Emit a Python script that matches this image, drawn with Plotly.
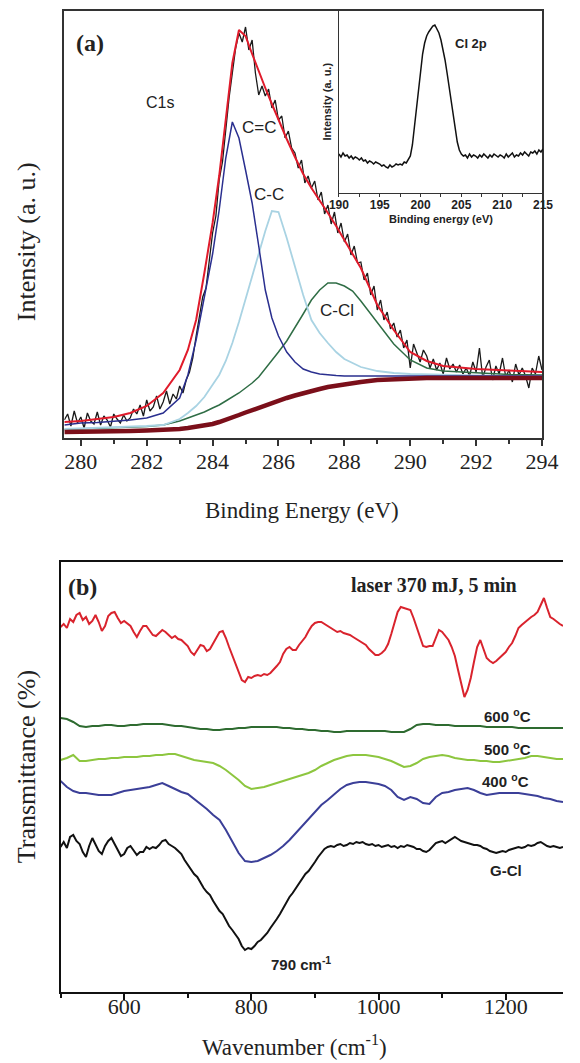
import numpy as np
import plotly.graph_objects as go

W, H = 580, 1063
SERIF = "Liberation Serif"
SANS = "Liberation Sans"

# ---------------- (a) C1s XPS spectrum and its fit ----------------
c1s_energy = np.linspace(279.5, 294.0, 146)
c1s_counts = [
    18, 24, 12, 27, 15, 21, 10, 25, 17, 14,
    26, 13, 22, 18, 11, 24, 19, 15, 23, 17,
    20, 29, 24, 33, 22, 38, 27, 31, 42, 29,
    36, 47, 34, 44, 39, 52, 45, 58, 66, 80,
    102, 124, 141, 150, 176, 205, 222, 258, 276, 312,
    340, 365, 390, 405, 396, 411, 388, 398, 365, 343,
    352, 342, 349, 330, 338, 318, 322, 300, 307, 290,
    285, 270, 278, 255, 262, 250, 257, 238, 246, 224,
    233, 214, 226, 205, 215, 196, 204, 183, 192, 175,
    176, 158, 165, 143, 152, 128, 138, 118, 126, 109,
    115, 101, 108, 90, 98, 70, 94, 85, 76, 88,
    82, 70, 79, 68, 75, 64, 80, 69, 74, 66,
    73, 64, 70, 62, 76, 66, 90, 60, 71, 78,
    58, 72, 64, 80, 61, 68, 56, 74, 63, 70,
    62, 50, 70, 64, 82, 68,
]

fit_energy = [279.5, 280, 280.5, 281, 281.5, 282, 282.5, 283,
              283.25, 283.5, 283.75,
              284, 284.2, 284.4, 284.6, 284.8,
              285, 285.2, 285.4, 285.6, 285.8,
              286, 286.25, 286.5, 286.75,
              287, 287.25, 287.5, 287.75,
              288, 288.25, 288.5,
              289, 289.5, 290, 290.5, 291,
              292, 293, 294]
fit_background = [6, 6, 6.5, 7, 7, 7.5, 8, 9,
                  10, 11, 12.5,
                  14, 16, 18, 20.5, 23,
                  25.5, 28, 30.5, 33, 35,
                  37, 40, 42.5, 45,
                  47, 49, 51, 52.5,
                  54, 55, 56,
                  58, 59, 60, 60, 60,
                  60, 60, 60]
fit_c_eq_c = [13, 15, 15.5, 16.5, 18, 20, 25, 40,
              63, 98, 140,
              184, 228, 280, 316, 300,
              268, 235, 192, 148, 120,
              102, 86, 76, 69,
              66, 64, 63, 62.5,
              62, 62, 62,
              62, 62, 62, 62, 62,
              62, 62, 62]
fit_c_c = [9, 9.5, 10, 10.5, 11, 12, 13, 19,
           25, 32, 41,
           53, 63, 77, 95, 116,
           139, 162, 186, 207, 227,
           226, 200, 171, 143,
           118, 105, 95, 86,
           79, 75, 71,
           67, 65, 64, 63.5, 63,
           62.5, 62, 62]
fit_c_cl = [8.5, 9, 9.5, 10, 10.5, 11.5, 13, 17,
            20, 23, 26,
            30, 33, 37, 41, 45,
            50, 55, 61, 69, 77,
            86, 97, 110, 124,
            138, 148, 155, 155,
            152, 147, 137,
            116, 94, 78, 70, 67,
            65, 63.5, 63]
fit_envelope = [16, 17, 19, 21, 25, 32, 45, 68,
                88, 118, 165,
                215, 262, 318, 375, 408,
                402, 384, 366, 350, 334,
                318, 299, 281, 264,
                250, 238, 225, 212,
                198, 185, 170,
                133, 108, 86, 77, 72,
                69, 67.5, 66]

# ---------------- (a) inset: Cl 2p ----------------
cl2p_energy = np.linspace(190, 215, 101)
cl2p_counts = [
    39, 36, 40, 37, 38, 35, 37, 34, 36, 35,
    33, 35, 32, 33, 30, 32, 31, 29, 31, 30,
    29, 27, 28, 26, 25, 28, 26, 27, 29, 28,
    29, 28, 31, 30, 33, 37, 48, 66, 88, 108,
    125, 139, 150, 157, 161, 164, 167, 168, 164, 160,
    153, 144, 133, 120, 106, 91, 76, 62, 51, 43,
    39, 37, 38, 35, 39, 36, 38, 37, 35, 38,
    36, 39, 37, 35, 38, 36, 39, 37, 36, 38,
    37, 35, 39, 36, 38, 40, 36, 38, 37, 40,
    38, 41, 39, 37, 41, 40, 42, 39, 43, 41,
    44,
]

# ---------------- (b) FTIR spectra ----------------
wn_fine = np.arange(500, 1291, 5)
wn_coarse = np.arange(500, 1291, 10)

ir_laser = [
    365, 368, 364, 373, 370, 377, 379, 372, 375, 368,
    371, 377, 370, 361, 366, 376, 379, 380, 374, 369,
    371, 368, 366, 360, 355, 361, 366, 366, 361, 357,
    356, 359, 362, 360, 357, 354, 356, 353, 352, 349,
    346, 340, 337, 342, 347, 346, 341, 343, 349, 355,
    360, 361, 354, 345, 337, 330, 322, 312, 310, 315,
    314, 316, 317, 316, 318, 317, 319, 322, 326, 330,
    338, 343, 345, 342, 342, 347, 351, 355, 361, 366,
    369, 370, 370, 368, 366, 364, 362, 360, 361, 359,
    358, 357, 355, 353, 351, 349, 347, 343, 340, 337,
    337, 339, 342, 348, 358, 368, 380, 385, 384, 383,
    382, 374, 365, 354, 346, 345, 346, 346, 355, 362,
    360, 356, 352, 345, 336, 322, 308, 295, 302, 314,
    330, 345, 352, 342, 334, 331, 329, 331, 334, 336,
    340, 345, 349, 356, 364, 367, 370, 372, 375, 377,
    380, 387, 394, 384, 375, 373, 370, 368, 366,
]
ir_gcl = [
    145, 150, 144, 155, 157, 151, 148, 140, 135, 146,
    154, 148, 141, 138, 146, 151, 154, 148, 142, 136,
    138, 144, 146, 142, 137, 140, 140, 145, 143, 145,
    144, 147, 151, 152, 148, 146, 144, 141, 138, 132,
    127, 122, 118, 115, 109, 104, 100, 97, 91, 86,
    81, 78, 72, 66, 62, 58, 53, 46, 42, 44,
    43, 46, 50, 52, 55, 59, 64, 68, 73, 78,
    84, 89, 95, 99, 104, 108, 113, 118, 121, 125,
    130, 135, 139, 143, 145, 146, 145, 147, 148, 146,
    147, 149, 148, 150, 149, 150, 148, 147, 148, 146,
    147, 145, 146, 147, 145, 146, 144, 146, 145, 147,
    146, 145, 143, 143, 141, 140, 142, 146, 149, 150,
    151, 149, 151, 153, 155, 153, 151, 150, 149, 148,
    147, 147, 146, 144, 143, 141, 140, 139, 140, 141,
    140, 142, 143, 144, 145, 144, 145, 147, 146, 147,
    149, 150, 148, 146, 145, 146, 145, 144, 145,
]
ir_600 = [
    274, 273, 270, 266, 265, 266, 266, 267, 267, 266,
    266, 267, 267, 268, 268, 268, 268, 267, 266, 266,
    265, 264, 263, 263, 262, 262, 263, 263, 264, 264,
    265, 265, 265, 265, 265, 264, 264, 263, 263, 262,
    262, 261, 261, 260, 260, 261, 261, 261, 261, 261,
    261, 261, 260, 260, 260, 263, 267, 268, 268, 267,
    267, 267, 266, 266, 266, 266, 266, 265, 265, 265,
    265, 265, 264, 264, 264, 264, 264, 264, 264, 264,
]
ir_500 = [
    232, 234, 237, 231, 231, 232, 233, 233, 234, 234,
    235, 235, 235, 236, 236, 237, 237, 238, 238, 236,
    234, 232, 231, 230, 229, 226, 222, 217, 212, 206,
    203, 204, 205, 207, 209, 211, 213, 215, 217, 219,
    222, 226, 229, 232, 234, 236, 237, 237, 237, 236,
    235, 233, 231, 228, 225, 226, 229, 233, 235, 236,
    237, 236, 234, 233, 232, 232, 231, 231, 230, 230,
    231, 232, 233, 234, 236, 236, 235, 234, 233, 233,
]
ir_400 = [
    211, 205, 201, 199, 199, 198, 197, 197, 197, 199,
    201, 202, 203, 204, 205, 207, 209, 206, 203, 200,
    198, 193, 188, 183, 177, 172, 162, 150, 139, 131,
    130, 131, 134, 137, 141, 146, 152, 159, 166, 174,
    181, 187, 192, 198, 203, 207, 209, 210, 210, 209,
    208, 206, 202, 195, 192, 195, 193, 189, 188, 195,
    199, 200, 202, 203, 204, 202, 199, 197, 198, 199,
    199, 199, 199, 198, 197, 196, 194, 193, 191, 190,
]

for xs, ys in [(c1s_energy, c1s_counts), (cl2p_energy, cl2p_counts),
               (wn_fine, ir_laser), (wn_fine, ir_gcl),
               (wn_coarse, ir_600), (wn_coarse, ir_500), (wn_coarse, ir_400)]:
    assert len(xs) == len(ys), (len(xs), len(ys))
for ys in [fit_background, fit_c_eq_c, fit_c_c, fit_c_cl, fit_envelope]:
    assert len(ys) == len(fit_energy), len(ys)


def px_x(px):
    return px / W


def px_y(py):
    return 1 - py / H


fig = go.Figure()


def line(c, w):
    return dict(color=c, width=w)


# panel (a)
fig.add_trace(go.Scatter(x=c1s_energy, y=c1s_counts, mode="lines",
                         line=line("#1a1a1a", 1.3), xaxis="x", yaxis="y"))
fig.add_trace(go.Scatter(x=fit_energy, y=fit_c_cl, mode="lines",
                         line=line("#2f6d45", 1.5), xaxis="x", yaxis="y"))
fig.add_trace(go.Scatter(x=fit_energy, y=fit_c_c, mode="lines",
                         line=line("#a9d3e3", 1.8), xaxis="x", yaxis="y"))
fig.add_trace(go.Scatter(x=fit_energy, y=fit_c_eq_c, mode="lines",
                         line=line("#2a2f8f", 1.5), xaxis="x", yaxis="y"))
fig.add_trace(go.Scatter(x=fit_energy, y=fit_background, mode="lines",
                         line=line("#7b0f1a", 4.5), xaxis="x", yaxis="y"))
fig.add_trace(go.Scatter(x=fit_energy, y=fit_envelope, mode="lines",
                         line=line("#e01b2b", 2), xaxis="x", yaxis="y"))

# inset
fig.add_trace(go.Scatter(x=cl2p_energy, y=cl2p_counts, mode="lines",
                         line=line("#111111", 1.5), xaxis="x2", yaxis="y2"))

# panel (b)
fig.add_trace(go.Scatter(x=wn_fine, y=ir_laser, mode="lines",
                         line=line("#d9232d", 2), xaxis="x3", yaxis="y3"))
fig.add_trace(go.Scatter(x=wn_coarse, y=ir_600, mode="lines",
                         line=line("#2e6b30", 2), xaxis="x3", yaxis="y3"))
fig.add_trace(go.Scatter(x=wn_coarse, y=ir_500, mode="lines",
                         line=line("#8dc63f", 2), xaxis="x3", yaxis="y3"))
fig.add_trace(go.Scatter(x=wn_coarse, y=ir_400, mode="lines",
                         line=line("#3b3f98", 2), xaxis="x3", yaxis="y3"))
fig.add_trace(go.Scatter(x=wn_fine, y=ir_gcl, mode="lines",
                         line=line("#111111", 2), xaxis="x3", yaxis="y3"))

frame = "#333333"
serif_tick = dict(family=SERIF, size=22, color="#222")

layout = dict(
    width=W, height=H, margin=dict(l=0, r=0, t=0, b=0),
    paper_bgcolor="white", plot_bgcolor="rgba(0,0,0,0)",
    showlegend=False,
    xaxis=dict(domain=[px_x(57), px_x(558)], range=[279.5, 294], anchor="y",
               showline=True, mirror=True, linecolor=frame, linewidth=1.5,
               ticks="outside", ticklen=6, tickwidth=1.5, tickcolor=frame,
               tick0=280, dtick=2, tickfont=serif_tick, ticklabelstandoff=-3,
               minor=dict(dtick=1, ticks="outside", ticklen=4, tickcolor=frame),
               showgrid=False, zeroline=False),
    yaxis=dict(domain=[px_y(438), px_y(11)], range=[0, 427], anchor="x",
               showline=True, mirror=True, linecolor=frame, linewidth=1.5,
               showticklabels=False, ticks="", showgrid=False, zeroline=False),
    xaxis2=dict(domain=[px_x(345), px_x(559)], range=[190, 215], anchor="y2",
                showline=True, mirror=True, linecolor=frame, linewidth=1.3,
                ticks="outside", ticklen=3, tickcolor=frame, tick0=190, dtick=5,
                ticklabelstandoff=-3,
                minor=dict(dtick=2.5, ticks="outside", ticklen=3, tickcolor=frame),
                tickfont=dict(family=SANS, size=12, color="#222", weight="bold"),
                showgrid=False, zeroline=False),
    yaxis2=dict(domain=[px_y(193), px_y(10)], range=[0, 183], anchor="x2",
                showline=True, mirror=True, linecolor=frame, linewidth=1.3,
                showticklabels=False, ticks="", showgrid=False, zeroline=False),
    xaxis3=dict(domain=[px_x(53), 1.0], range=[500, 1290], anchor="y3",
                showline=True, mirror=True, linecolor="#111", linewidth=2,
                ticks="outside", ticklen=6, tickwidth=1.5, tickcolor="#111",
                tick0=600, dtick=200, tickfont=serif_tick, ticklabelstandoff=-12,
                minor=dict(dtick=100, ticks="outside", ticklen=4, tickcolor="#111"),
                showgrid=False, zeroline=False),
    yaxis3=dict(domain=[px_y(992), px_y(562)], range=[0, 430], anchor="x3",
                showline=True, linecolor="#111", linewidth=2,
                showticklabels=False, ticks="", showgrid=False, zeroline=False),
)
fig.update_layout(**layout)


def note(text, x, y, size, family=SANS, angle=0, color="#222"):
    fig.add_annotation(text=text, x=px_x(x), y=px_y(y), xref="paper", yref="paper",
                       showarrow=False, textangle=angle, xanchor="center",
                       yanchor="middle",
                       font=dict(family=family, size=size, color=color))


# panel (a) texts
note("<b>(a)</b>", 84, 43, 24, SERIF)
note("C1s", 157, 102, 16)
note("C=C", 261, 128, 17)
note("C-C", 272, 195, 17)
note("C-Cl", 343, 310, 17)
note("Intensity (a. u.)", 17, 242, 26, SERIF, angle=-90)
note("Binding Energy (eV)", 306, 510, 23, SERIF)
note("<b>Cl 2p</b>", 484, 43, 13)
note("<b>Intensity (a. u.)</b>", 332, 102, 11, angle=-90)
note("<b>Binding energy (eV)</b>", 452, 219, 11)

# panel (b) texts
note("<b>(b)</b>", 76, 587, 24, SERIF)
note("<b>laser 370 mJ, 5 min</b>", 445, 585, 20, SERIF)
note("<b>600 <sup>o</sup>C</b>", 522, 715, 15)
note("<b>500 <sup>o</sup>C</b>", 522, 748, 15)
note("<b>400 <sup>o</sup>C</b>", 520, 780, 15)
note("<b>G-Cl</b>", 520, 870, 15)
note("<b>790 cm<sup>-1</sup></b>", 305, 963, 15)
note("Transmittance (%)", 17, 767, 26, SERIF, angle=-90)
note("Wavenumber (cm<sup>-1</sup>)", 298, 1045, 23, SERIF)

fig.write_html("out.html")
